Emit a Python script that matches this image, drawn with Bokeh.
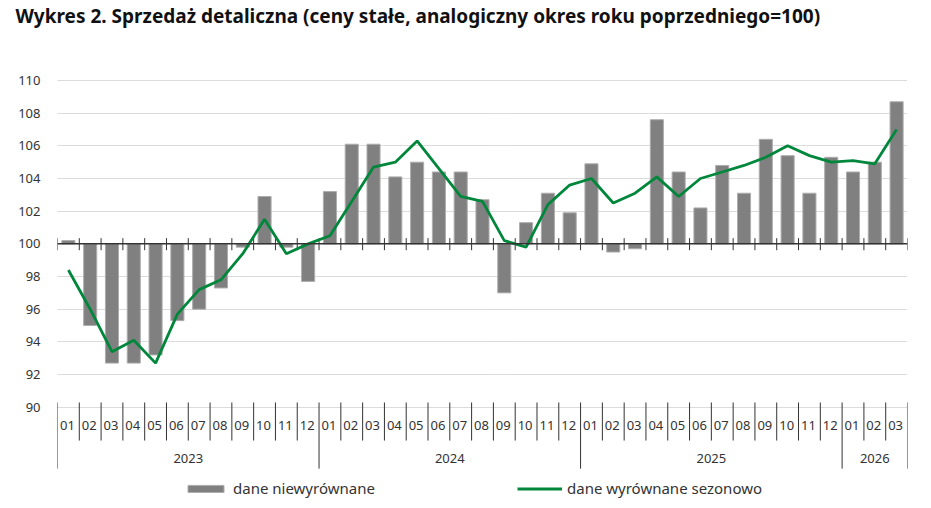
from bokeh.plotting import figure
from bokeh.models import Range1d, FixedTicker, Legend, LegendItem, Span, Title
from bokeh.embed import file_html
from bokeh.resources import INLINE
from bokeh.core.properties import value

# ---- data ----
months = ["01", "02", "03", "04", "05", "06", "07", "08", "09", "10", "11", "12",
          "01", "02", "03", "04", "05", "06", "07", "08", "09", "10", "11", "12",
          "01", "02", "03", "04", "05", "06", "07", "08", "09", "10", "11", "12",
          "01", "02", "03"]
years = ["2023", "2024", "2025", "2026"]
months_per_year = [12, 12, 12, 3]

unadjusted = [100.2, 95.0, 92.7, 92.7, 93.2, 95.3, 96.0, 97.3, 99.8, 102.9, 99.8, 97.7,
              103.2, 106.1, 106.1, 104.1, 105.0, 104.4, 104.4, 102.7, 97.0, 101.3, 103.1, 101.9,
              104.9, 99.5, 99.7, 107.6, 104.4, 102.2, 104.8, 103.1, 106.4, 105.4, 103.1, 105.3,
              104.4, 105.0, 108.7]
seasonal = [98.4, 96.0, 93.4, 94.1, 92.7, 95.7, 97.2, 97.8, 99.4, 101.5, 99.4, 100.0,
            100.5, 102.6, 104.7, 105.0, 106.3, 104.6, 102.9, 102.6, 100.2, 99.8, 102.4, 103.6,
            104.0, 102.5, 103.1, 104.1, 102.9, 104.0, 104.4, 104.8, 105.3, 106.0, 105.4, 105.0,
            105.1, 104.9, 107.0]
y_ticks = [90, 92, 94, 96, 98, 100, 102, 104, 106, 108, 110]
series_names = ["dane niewyrównane", "dane wyrównane sezonowo"]
title_text = "Wykres 2. Sprzedaż detaliczna (ceny stałe, analogiczny okres roku poprzedniego=100)"

FONT = "Noto Sans"
TXT = "#333333"

n = len(months)
xs = [i + 0.5 for i in range(n)]

p = figure(width=923, height=500, output_backend="svg", toolbar_location=None,
           x_range=Range1d(0, n), y_range=Range1d(84.29, 110.49),
           x_axis_type=None, min_border_left=57, min_border_right=16,
           min_border_top=72, min_border_bottom=0)
p.outline_line_color = None
p.background_fill_color = "white"

# spacer between frame and title, then the title itself (outermost)
p.add_layout(Title(text=" ", text_font=FONT, text_font_size="10px", standoff=28), "above")
p.title.text = title_text
p.title.text_font = FONT
p.title.text_font_size = "19px"
p.title.text_font_style = "bold"
p.title.text_color = "#111111"
p.title.standoff = 0
p.title.offset = -42

# y axis
p.yaxis.ticker = FixedTicker(ticks=y_ticks)
p.yaxis.axis_line_color = None
p.yaxis.major_tick_line_color = None
p.yaxis.minor_tick_line_color = None
p.yaxis.major_tick_out = 0
p.yaxis.major_tick_in = 0
p.yaxis.major_label_standoff = 17
p.yaxis.major_label_text_font = FONT
p.yaxis.major_label_text_font_size = "13px"
p.yaxis.major_label_text_color = TXT

p.xgrid.visible = False
p.ygrid.ticker = FixedTicker(ticks=y_ticks)
p.ygrid.grid_line_color = "#b8b8b8"
p.ygrid.grid_line_dash = "1 1"
p.ygrid.grid_line_width = 1

# bars
bars = p.vbar(x=xs, width=0.6, bottom=100, top=unadjusted,
              fill_color="#808080", line_color="#adadad", line_width=1)

# 100 baseline
p.add_layout(Span(location=100, dimension="width", line_color="#333333", line_width=1.5))

# ticks on baseline
bounds = list(range(n + 1))
p.segment(x0=bounds, y0=[100.35] * len(bounds), x1=bounds, y1=[99.61] * len(bounds),
          line_color="#333333", line_width=1)

# seasonal line
ln = p.line(xs, seasonal, line_color="#00873c", line_width=2.8)

# category axis drawn from data
year_bounds = [0]
for m in months_per_year:
    year_bounds.append(year_bounds[-1] + m)
month_bounds = [b for b in bounds if b not in year_bounds]
p.segment(x0=month_bounds, y0=[90.29] * len(month_bounds), x1=month_bounds,
          y1=[87.96] * len(month_bounds), line_color="#333333", line_width=1)
p.segment(x0=year_bounds, y0=[90.29] * len(year_bounds), x1=year_bounds,
          y1=[86.24] * len(year_bounds), line_color="#333333", line_width=1)

p.text(x=xs, y=[88.88] * n, text=months, text_align="center", text_baseline="middle",
       text_font=value(FONT), text_font_size="13px", text_color=TXT, x_offset=-1)
year_centers = [(year_bounds[i] + year_bounds[i + 1]) / 2 for i in range(len(years))]
p.text(x=year_centers, y=[86.86] * len(years), text=years, text_align="center",
       text_baseline="middle", text_font=value(FONT), text_font_size="13px", text_color=TXT)

# legends
for item, loc in [(LegendItem(label=series_names[0], renderers=[bars]), (126, 2)),
                  (LegendItem(label=series_names[1], renderers=[ln]), (460, 2))]:
    lg = Legend(items=[item], location=loc, orientation="horizontal",
                glyph_width=45, glyph_height=9, label_standoff=5, padding=0, margin=0,
                border_line_color=None, background_fill_alpha=0,
                label_text_font=FONT, label_text_font_size="15px", label_text_color=TXT)
    p.add_layout(lg)

open("out.html", "w").write(file_html(p, INLINE))
